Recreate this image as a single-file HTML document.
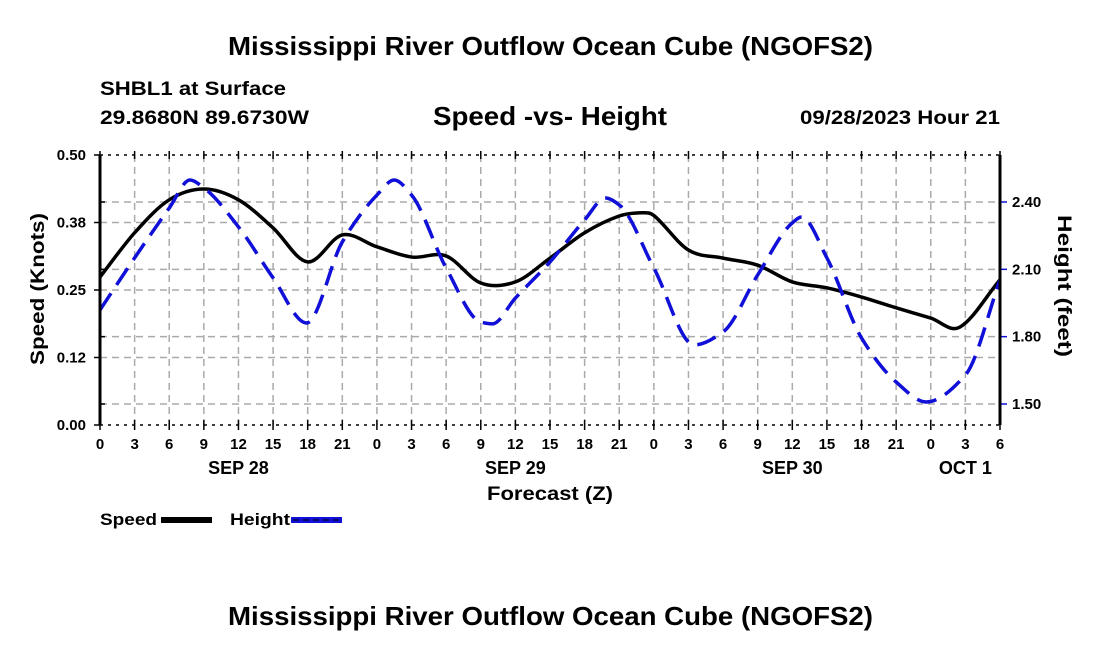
<!DOCTYPE html>
<html><head><meta charset="utf-8"><style>
body{margin:0;background:#fff;width:1100px;height:650px;overflow:hidden}
svg text{font-family:"Liberation Sans",Arial,sans-serif;font-weight:bold;fill:#000}
</style></head><body>
<svg id="c" width="1100" height="650" xmlns="http://www.w3.org/2000/svg">
<text x="228" y="55" font-size="26" textLength="645" lengthAdjust="spacingAndGlyphs">Mississippi River Outflow Ocean Cube (NGOFS2)</text>
<text x="100" y="95" font-size="19" textLength="186" lengthAdjust="spacingAndGlyphs">SHBL1 at Surface</text>
<text x="100" y="124" font-size="19" textLength="209" lengthAdjust="spacingAndGlyphs">29.8680N  89.6730W</text>
<text x="433" y="125" font-size="26" textLength="234" lengthAdjust="spacingAndGlyphs">Speed -vs- Height</text>
<text x="800" y="124" font-size="19" textLength="200" lengthAdjust="spacingAndGlyphs">09/28/2023 Hour 21</text>
<text x="228" y="625" font-size="26" textLength="645" lengthAdjust="spacingAndGlyphs">Mississippi River Outflow Ocean Cube (NGOFS2)</text>
<g id="grid"></g>
<g id="series"></g>
<g id="axes"></g>
<text x="487" y="500" font-size="19" textLength="126" lengthAdjust="spacingAndGlyphs">Forecast (Z)</text>
<text transform="translate(44,365) rotate(-90)" font-size="19" textLength="152" lengthAdjust="spacingAndGlyphs">Speed (Knots)</text>
<text transform="translate(1058,215) rotate(90)" font-size="19" textLength="142" lengthAdjust="spacingAndGlyphs">Height (feet)</text>
<g>
<text x="100" y="525" font-size="17" textLength="57" lengthAdjust="spacingAndGlyphs">Speed</text>
<rect x="161" y="517" width="51" height="6" fill="#000"/>
<text x="230" y="525" font-size="17" textLength="60" lengthAdjust="spacingAndGlyphs">Height</text>
<rect x="291" y="517" width="51" height="6" fill="#1010d8"/>
<line x1="293" y1="520" x2="342" y2="520" stroke="#000" stroke-width="1" stroke-dasharray="6,4"/>
</g>
</svg>
<script>
const speedHours=[0,3,6,9,12,15,18,21,24,27,30,33,36,39,42,45,47,48,51,54,57,60,63,66,69,72,74.5,78];
const speedValues=[0.274,0.356,0.417,0.437,0.417,0.365,0.302,0.352,0.330,0.311,0.313,0.263,0.265,0.309,0.356,0.387,0.393,0.388,0.324,0.309,0.296,0.265,0.254,0.237,0.217,0.198,0.181,0.269];
const heightHours=[0,3,6,7.8,9,12,15,17.9,21,24,25.5,27,30,33,34,36,39,42,43.8,45,48,51.5,54,57,60,60.8,63,66,69,71.6,75,78];
const heightValues=[1.919,2.151,2.373,2.498,2.463,2.289,2.062,1.861,2.222,2.431,2.498,2.431,2.106,1.865,1.857,1.972,2.133,2.320,2.418,2.387,2.106,1.763,1.821,2.075,2.307,2.333,2.151,1.794,1.598,1.509,1.629,2.053];
const xTickLabels=["0","3","6","9","12","15","18","21","0","3","6","9","12","15","18","21","0","3","6","9","12","15","18","21","0","3","6"];
const dayLabels=["SEP 28","SEP 29","SEP 30","OCT 1"];
const dayLabelHours=[12,36,60,75];
const speedTicks=[0,0.125,0.25,0.375,0.5];
const speedTickLabels=["0.00","0.12","0.25","0.38","0.50"];
const heightTicks=[1.5,1.8,2.1,2.4];
const heightTickLabels=["1.50","1.80","2.10","2.40"];

const L=100,R=1000,T=155,B=425;
const X=h=>L+h*(R-L)/78;
const YS=v=>B-v*(B-T)/0.5;
const YH=v=>404-(v-1.5)*(202/0.9);
const NS="http://www.w3.org/2000/svg";
function mk(tag,attrs,parent){const e=document.createElementNS(NS,tag);for(const k in attrs)e.setAttribute(k,attrs[k]);parent.appendChild(e);return e;}
const grid=document.getElementById('grid'),axes=document.getElementById('axes'),series=document.getElementById('series');

xTickLabels.forEach((t,i)=>{const x=X(i*3);
 if(i>0&&i<26){const g=mk('line',{x1:x,y1:T,x2:x,y2:B,stroke:'#aaa','stroke-width':1.5,'stroke-dasharray':'7,5'},grid);
 }
 const tk=mk('line',{x1:x,y1:B-5,x2:x,y2:B+5,stroke:'#000','stroke-width':1.5},axes);
 
 mk('line',{x1:x,y1:T-4,x2:x,y2:T+4,stroke:'#000','stroke-width':1.5},axes);
 const tx=mk('text',{x:x,y:449,'font-size':15,'text-anchor':'middle'},axes);tx.textContent=t;
 
});
dayLabels.forEach((d,i)=>{const tx=mk('text',{x:X(dayLabelHours[i]),y:474,'font-size':18,'text-anchor':'middle'},axes);tx.textContent=d;
 });
speedTicks.forEach((v,i)=>{const y=YS(v);
 if(v>0&&v<0.5){const g=mk('line',{x1:L,y1:y,x2:R,y2:y,stroke:'#aaa','stroke-width':1.5,'stroke-dasharray':'7,5'},grid);
 }
 mk('line',{x1:L-6,y1:y,x2:L,y2:y,stroke:'#000','stroke-width':1.5},axes);
 const tx=mk('text',{x:86,y:y+5,'font-size':15,'text-anchor':'end'},axes);tx.textContent=speedTickLabels[i];
 });
heightTicks.forEach((v,i)=>{const y=YH(v);
 const g=mk('line',{x1:L,y1:y,x2:R,y2:y,stroke:'#aaa','stroke-width':1.5,'stroke-dasharray':'7,5'},grid);
 
 mk('line',{x1:R,y1:y,x2:R+7,y2:y,stroke:'#1010d8','stroke-width':1.5},axes);
 mk('line',{x1:L,y1:y,x2:L+5,y2:y,stroke:'#000','stroke-width':1.5},axes);
 const tx=mk('text',{x:1012,y:y+5,'font-size':15},axes);tx.textContent=heightTickLabels[i];
 });
mk('line',{x1:L,y1:T,x2:L,y2:B,stroke:'#000','stroke-width':3},axes);
mk('line',{x1:R,y1:T,x2:R,y2:B,stroke:'#000','stroke-width':3},axes);
mk('line',{x1:L,y1:T,x2:R,y2:T,stroke:'#000','stroke-width':1.5,'stroke-dasharray':'3,5'},axes);
mk('line',{x1:L,y1:B,x2:R,y2:B,stroke:'#000','stroke-width':1.5,'stroke-dasharray':'3,5'},axes);

function spline(xs,ys,mono){const n=xs.length,d=[],m=[];
 for(let i=0;i<n-1;i++)d.push((ys[i+1]-ys[i])/(xs[i+1]-xs[i]));
 m[0]=d[0];m[n-1]=d[n-2];
 for(let i=1;i<n-1;i++){
  if(!mono){m[i]=(ys[i+1]-ys[i-1])/(xs[i+1]-xs[i-1]);continue;}
  if(d[i-1]*d[i]<=0)m[i]=0;else{const w1=2*(xs[i+1]-xs[i])+(xs[i]-xs[i-1]),w2=(xs[i+1]-xs[i])+2*(xs[i]-xs[i-1]);m[i]=(w1+w2)/(w1/d[i-1]+w2/d[i]);}}
 let p='M'+xs[0].toFixed(2)+','+ys[0].toFixed(2);
 for(let i=0;i<n-1;i++){const h=xs[i+1]-xs[i];
  p+=' C'+(xs[i]+h/3).toFixed(2)+','+(ys[i]+m[i]*h/3).toFixed(2)+' '+(xs[i+1]-h/3).toFixed(2)+','+(ys[i+1]-m[i+1]*h/3).toFixed(2)+' '+xs[i+1].toFixed(2)+','+ys[i+1].toFixed(2);}
 return p;}
const sp=mk('path',{d:spline(speedHours.map(X),speedValues.map(YS),false),fill:'none',stroke:'#000','stroke-width':3.5},series);


const hp=mk('path',{d:spline(heightHours.map(X),heightValues.map(YH),true),fill:'none',stroke:'#1010d8','stroke-width':3.5,'stroke-dasharray':'20,10'},series);


</script>
</body></html>
